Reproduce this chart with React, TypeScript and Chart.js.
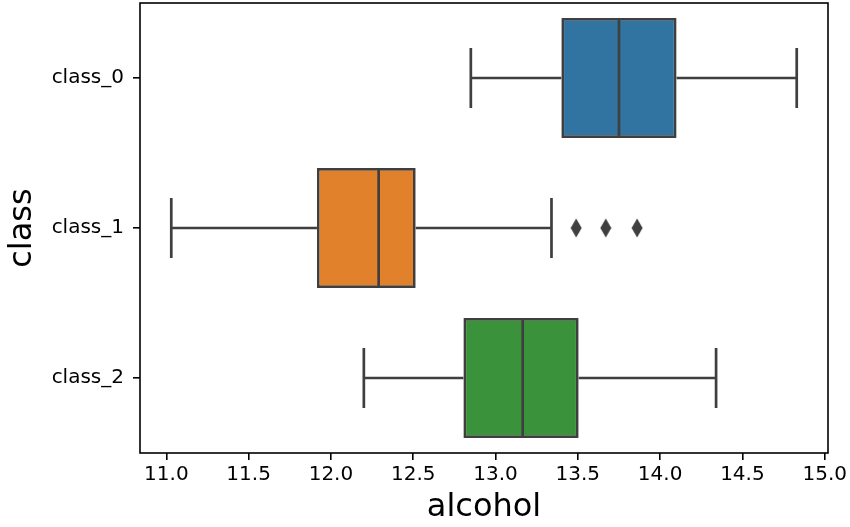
import React, { useEffect, useRef } from 'react';
import { Chart, registerables } from 'chart.js';

Chart.register(...registerables);

// ---- data ----
const categories = ['class_0', 'class_1', 'class_2'];
const whiskerLow = [12.85, 11.03, 12.2];
const q1 = [13.4, 11.915, 12.805];
const median = [13.75, 12.29, 13.165];
const q3 = [14.1, 12.515, 13.505];
const whiskerHigh = [14.83, 13.34, 14.34];
const outlierCategory = ['class_1', 'class_1', 'class_1'];
const outlierValues = [13.49, 13.67, 13.86];
const boxColors = ['#3274a1', '#e1812c', '#3a923a'];
const xTickValues = [11.0, 11.5, 12.0, 12.5, 13.0, 13.5, 14.0, 14.5, 15.0];
const xMin = 10.84;
const xMax = 15.02;
const xTitle = 'alcohol';
const yTitle = 'class';

const LINE_COLOR = '#3f3f3f';
const LINE_WIDTH = 2.7;
const FONT = 'DejaVu Sans';

function makeDiamond(): HTMLCanvasElement {
  const c = document.createElement('canvas');
  c.width = 12;
  c.height = 20;
  const g = c.getContext('2d')!;
  g.fillStyle = LINE_COLOR;
  g.beginPath();
  g.moveTo(6, 0.5);
  g.lineTo(11.5, 10);
  g.lineTo(6, 19.5);
  g.lineTo(0.5, 10);
  g.closePath();
  g.fill();
  return c;
}

const boxExtras = {
  id: 'boxExtras',
  beforeDatasetsDraw(chart: any) {
    const { ctx, scales } = chart;
    const x = scales.x;
    const y = scales.y;
    const meta = chart.getDatasetMeta(0);
    ctx.save();
    ctx.strokeStyle = LINE_COLOR;
    ctx.lineWidth = LINE_WIDTH;
    ctx.lineCap = 'butt';
    categories.forEach((_, i) => {
      const el = meta.data[i];
      const h = el.height;
      const cy = y.getPixelForValue(i);
      const xl = x.getPixelForValue(whiskerLow[i]);
      const x1 = x.getPixelForValue(q1[i]);
      const x3 = x.getPixelForValue(q3[i]);
      const xh = x.getPixelForValue(whiskerHigh[i]);
      ctx.beginPath();
      ctx.moveTo(xl, cy);
      ctx.lineTo(x1, cy);
      ctx.moveTo(x3, cy);
      ctx.lineTo(xh, cy);
      ctx.moveTo(xl, cy - h / 4);
      ctx.lineTo(xl, cy + h / 4);
      ctx.moveTo(xh, cy - h / 4);
      ctx.lineTo(xh, cy + h / 4);
      ctx.stroke();
    });
    ctx.restore();
  },
  afterDatasetsDraw(chart: any) {
    const { ctx, scales } = chart;
    const x = scales.x;
    const y = scales.y;
    const meta = chart.getDatasetMeta(0);
    ctx.save();
    ctx.strokeStyle = LINE_COLOR;
    ctx.lineWidth = LINE_WIDTH;
    categories.forEach((_, i) => {
      const el = meta.data[i];
      const h = el.height;
      const cy = y.getPixelForValue(i);
      const xm = x.getPixelForValue(median[i]);
      ctx.beginPath();
      ctx.moveTo(xm, cy - h / 2);
      ctx.lineTo(xm, cy + h / 2);
      ctx.stroke();
    });
    ctx.restore();
  },
  afterDraw(chart: any) {
    const { ctx, chartArea } = chart;
    ctx.save();
    ctx.strokeStyle = '#000';
    ctx.lineWidth = 1.6;
    ctx.strokeRect(
      chartArea.left,
      chartArea.top,
      chartArea.right - chartArea.left,
      chartArea.bottom - chartArea.top
    );
    ctx.restore();
  },
};

export default function App() {
  const ref = useRef<HTMLCanvasElement>(null);
  useEffect(() => {
    document.body.style.margin = '0';
    const canvas = ref.current!;
    const diamond = makeDiamond();
    const chart = new Chart(canvas, {
      type: 'bar',
      data: {
        labels: categories,
        datasets: [
          {
            type: 'bar',
            data: categories.map((_, i) => [q1[i], q3[i]]) as any,
            backgroundColor: boxColors,
            borderColor: LINE_COLOR,
            borderWidth: LINE_WIDTH,
            borderSkipped: false,
            barPercentage: 0.8,
            categoryPercentage: 1.0,
          } as any,
          {
            type: 'scatter',
            data: outlierValues.map((v, i) => ({ x: v, y: outlierCategory[i] })) as any,
            pointStyle: diamond,
            pointRadius: 6,
            backgroundColor: LINE_COLOR,
            borderColor: LINE_COLOR,
          } as any,
        ],
      },
      options: {
        indexAxis: 'y',
        responsive: false,
        animation: false,
        devicePixelRatio: 1,
        layout: { autoPadding: false, padding: { top: 3, right: 22, bottom: 0, left: 0 } },
        plugins: {
          legend: { display: false },
          tooltip: { enabled: false },
        },
        scales: {
          x: {
            type: 'linear',
            min: xMin,
            max: xMax,
            afterBuildTicks: (scale: any) => {
              scale.ticks = xTickValues.map((v) => ({ value: v }));
            },
            afterFit: (scale: any) => {
              scale.height = 74;
              scale.paddingLeft = 0;
              scale.paddingRight = 0;
            },
            ticks: {
              callback: (v: any) => Number(v).toFixed(1),
              font: { family: FONT, size: 20 },
              color: '#000',
              padding: 3,
              maxRotation: 0,
              autoSkip: false,
            },
            grid: {
              display: true,
              drawOnChartArea: false,
              drawTicks: true,
              tickLength: 7,
              color: '#000',
              lineWidth: 1.6,
            },
            border: { display: false },
            title: {
              display: true,
              text: xTitle,
              font: { family: FONT, size: 32 },
              color: '#000',
              padding: { top: 0, bottom: 0 },
            },
          },
          y: {
            type: 'category',
            labels: categories,
            offset: true,
            afterFit: (scale: any) => {
              scale.width = 140;
              scale.paddingTop = 0;
              scale.paddingBottom = 0;
            },
            ticks: {
              font: { family: FONT, size: 20 },
              color: '#000',
              padding: 9,
            },
            grid: {
              display: true,
              offset: false,
              drawOnChartArea: false,
              drawTicks: true,
              tickLength: 7,
              color: '#000',
              lineWidth: 1.6,
            },
            border: { display: false },
            title: {
              display: true,
              text: yTitle,
              font: { family: FONT, size: 32 },
              color: '#000',
              padding: { top: 3, bottom: 0 },
            },
          },
        },
      } as any,
      plugins: [boxExtras],
    });
    return () => chart.destroy();
  }, []);
  return (
    <div style={{ width: 850, height: 527 }}>
      <canvas ref={ref} width={850} height={527} />
    </div>
  );
}
